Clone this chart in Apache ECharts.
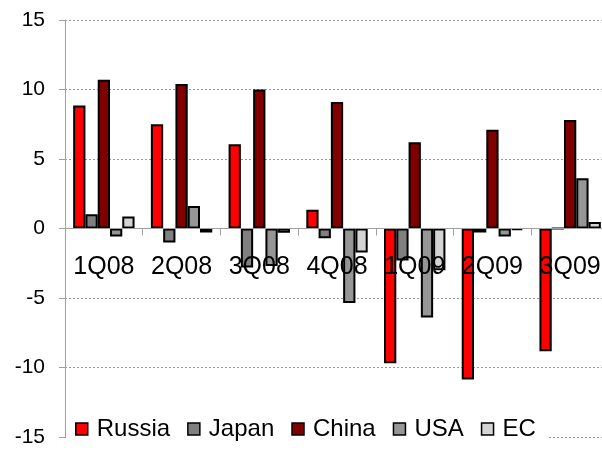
<!DOCTYPE html>
<html>
<head>
<meta charset="utf-8">
<script src="https://cdn.jsdelivr.net/npm/echarts@6/dist/echarts.min.js"></script>
<style>
  html, body { margin: 0; padding: 0; background: #fff; }
  #chart { width: 602px; height: 451px; }
</style>
</head>
<body>
<div id="chart"></div>
<script>
// Quarterly growth, % year on year
const quarters = ['1Q08', '2Q08', '3Q08', '4Q08', '1Q09', '2Q09', '3Q09'];
const russia = [8.85, 7.5, 6.07, 1.34, -9.7, -10.87, -8.83];
const japan  = [1.03, -1.0, -2.8, -0.7, -2.3, -0.29, 0];
const china  = [10.7, 10.4, 10.0, 9.1, 6.2, 7.1, 7.8];
const usa    = [-0.57, 1.62, -2.7, -5.36, -6.4, -0.57, 3.61];
const ec     = [0.86, -0.29, -0.3, -1.72, -3.0, -0.12, 0.47];
const yTicks = { min: -15, max: 15, step: 5 };

const FONT = '"Liberation Sans", Arial, sans-serif';

const seriesDefs = [
  { name: 'Russia', data: russia, color: '#ff0000' },
  { name: 'Japan',  data: japan,  color: '#808080' },
  { name: 'China',  data: china,  color: '#800000' },
  { name: 'USA',    data: usa,    color: '#969696' },
  { name: 'EC',     data: ec,     color: '#d4d4d4' }
];

// plot area
const GRID = { left: 65, right: -7, top: 20, bottom: 14 };
const plotH = 451 - GRID.top - GRID.bottom;
// distance from the plot bottom up to the zero line
const zeroLift = plotH * (0 - yTicks.min) / (yTicks.max - yTicks.min);

const chart = echarts.init(document.getElementById('chart'), null, { renderer: 'canvas' });

chart.setOption({
  animation: false,
  backgroundColor: '#ffffff',
  grid: Object.assign({ containLabel: false, outerBoundsMode: 'none' }, GRID),
  legend: {
    data: seriesDefs.map(s => s.name),
    left: 66,
    top: 414,
    padding: [3, 12, 3, 9],
    backgroundColor: '#ffffff',
    icon: 'rect',
    itemWidth: 12,
    itemHeight: 12,
    itemGap: 17,
    itemStyle: { borderColor: '#000', borderWidth: 1.5 },
    textStyle: { fontFamily: FONT, fontSize: 24, color: '#000', padding: [0, 0, 0, 4] }
  },
  xAxis: {
    type: 'category',
    data: quarters,
    position: 'bottom',
    offset: -zeroLift,
    z: 5,
    axisLine: { onZero: false, lineStyle: { color: '#a0a0a0', width: 1 } },
    axisTick: { show: true, length: 7, lineStyle: { color: '#a0a0a0' } },
    axisLabel: { interval: 0, fontFamily: FONT, fontSize: 25, color: '#000', margin: 26 },
    splitLine: { show: false }
  },
  yAxis: {
    type: 'value',
    min: yTicks.min,
    max: yTicks.max,
    interval: yTicks.step,
    axisLine: { show: true, lineStyle: { color: '#a0a0a0', width: 1 } },
    axisTick: { show: true, length: 6, lineStyle: { color: '#a0a0a0' } },
    axisLabel: { fontFamily: FONT, fontSize: 21, color: '#000', margin: 20 },
    splitLine: { show: true, lineStyle: { color: '#999', type: [2, 2], width: 1 } }
  },
  series: seriesDefs.map(s => ({
    name: s.name,
    type: 'bar',
    data: s.data,
    barGap: '0%',
    barCategoryGap: '21%',
    itemStyle: { color: s.color, borderColor: '#000', borderWidth: 2 }
  }))
});
</script>
</body>
</html>
